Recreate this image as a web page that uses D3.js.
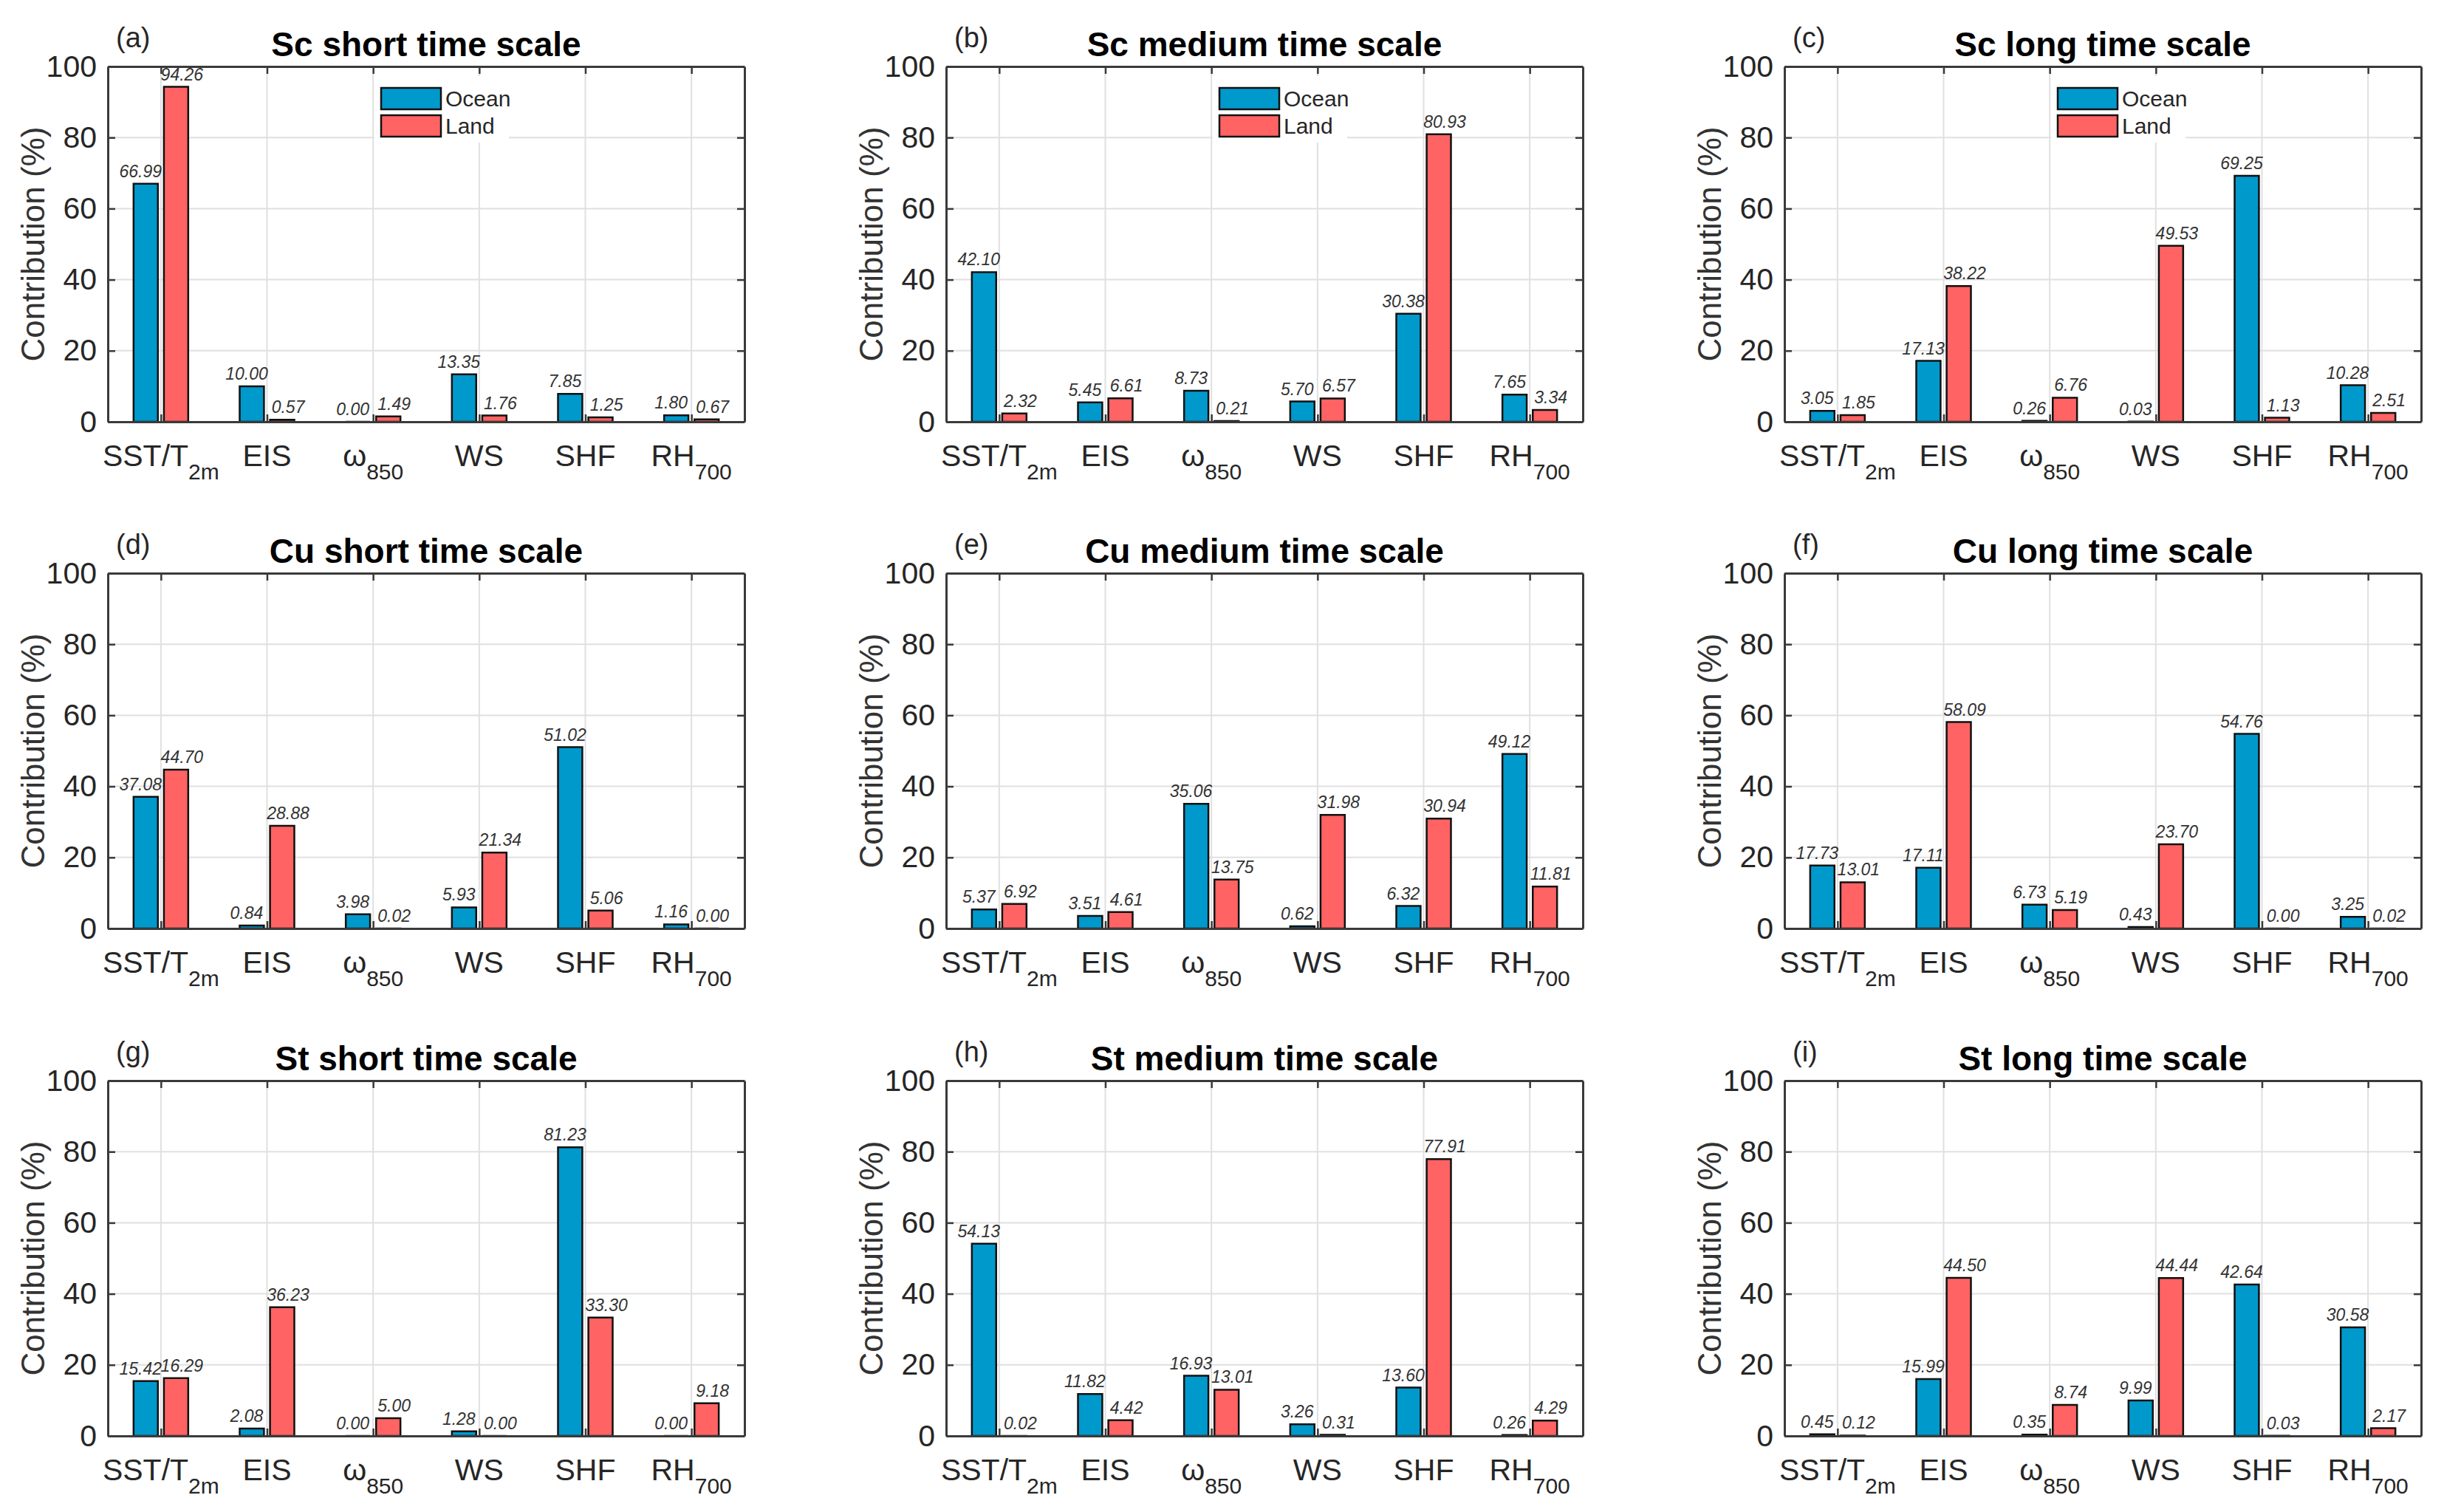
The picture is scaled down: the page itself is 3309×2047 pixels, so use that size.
<!DOCTYPE html>
<html>
<head>
<meta charset="utf-8">
<script src="https://cdn.jsdelivr.net/npm/d3@7"></script>
<style>
  body { margin: 0; background: #fff; }
  svg { display: block; }
</style>
</head>
<body>
<div id="chart"></div>
<script>
// data
var titles = ["Sc short time scale", "Sc medium time scale", "Sc long time scale",
              "Cu short time scale", "Cu medium time scale", "Cu long time scale",
              "St short time scale", "St medium time scale", "St long time scale"];
var panelTags = ["(a)", "(b)", "(c)", "(d)", "(e)", "(f)", "(g)", "(h)", "(i)"];
var catMain = ["SST/T", "EIS", "\u03C9", "WS", "SHF", "RH"];
var catSub  = ["2m", "", "850", "", "", "700"];
var seriesNames = ["Ocean", "Land"];
var yTicks = [0, 20, 40, 60, 80, 100];

var oceanVals = [
  [66.99, 10.00, 0.00, 13.35, 7.85, 1.80],
  [42.10, 5.45, 8.73, 5.70, 30.38, 7.65],
  [3.05, 17.13, 0.26, 0.03, 69.25, 10.28],
  [37.08, 0.84, 3.98, 5.93, 51.02, 1.16],
  [5.37, 3.51, 35.06, 0.62, 6.32, 49.12],
  [17.73, 17.11, 6.73, 0.43, 54.76, 3.25],
  [15.42, 2.08, 0.00, 1.28, 81.23, 0.00],
  [54.13, 11.82, 16.93, 3.26, 13.60, 0.26],
  [0.45, 15.99, 0.35, 9.99, 42.64, 30.58]
];
var landVals = [
  [94.26, 0.57, 1.49, 1.76, 1.25, 0.67],
  [2.32, 6.61, 0.21, 6.57, 80.93, 3.34],
  [1.85, 38.22, 6.76, 49.53, 1.13, 2.51],
  [44.70, 28.88, 0.02, 21.34, 5.06, 0.00],
  [6.92, 4.61, 13.75, 31.98, 30.94, 11.81],
  [13.01, 58.09, 5.19, 23.70, 0.00, 0.02],
  [16.29, 36.23, 5.00, 0.00, 33.30, 9.18],
  [0.02, 4.42, 13.01, 0.31, 77.91, 4.29],
  [0.12, 44.50, 8.74, 44.44, 0.03, 2.17]
];

var width = 3309, height = 2047;
var colLeft = [146, 1281, 2416], rowTop = [90, 776, 1463];
var axW = 862, axH = 481;
var colors = {Ocean: "#0099cc", Land: "#ff6363"};
var offsets = {Ocean: -0.143, Land: 0.143};
var labelShift = {Ocean: -7, Land: 8};
var barW = 0.229;
var textCol = "#262626";
var tickFont = "'Liberation Sans Narrow', 'Liberation Sans', Arial, sans-serif";
var mainFont = "'Liberation Sans', Arial, sans-serif";

var svg = d3.select("#chart")
  .append("svg")
    .attr("width", width)
    .attr("height", height);

titles.forEach(function(title, i) {
  var r = Math.floor(i / 3), c = i % 3;
  var g = svg.append("g")
    .attr("transform", "translate(" + colLeft[c] + "," + rowTop[r] + ")");

  var x = d3.scaleLinear().domain([0.5, 6.5]).range([0, axW]);
  var y = d3.scaleLinear().domain([0, 100]).range([axH, 0]);
  var cats = d3.range(1, 7);

  // grid lines
  g.append("g").selectAll("line")
    .data(cats)
    .enter().append("line")
      .attr("x1", function(d) { return x(d); })
      .attr("x2", function(d) { return x(d); })
      .attr("y1", 0).attr("y2", axH)
      .attr("stroke", "#e0e0e0").attr("stroke-width", 2);
  g.append("g").selectAll("line")
    .data(yTicks.slice(1, -1))
    .enter().append("line")
      .attr("x1", 0).attr("x2", axW)
      .attr("y1", function(d) { return y(d); })
      .attr("y2", function(d) { return y(d); })
      .attr("stroke", "#e0e0e0").attr("stroke-width", 2);

  // bars
  var data = [];
  seriesNames.forEach(function(s) {
    var vals = s === "Ocean" ? oceanVals[i] : landVals[i];
    vals.forEach(function(v, k) { data.push({s: s, k: k + 1, v: v}); });
  });

  g.append("g").selectAll("path")
    .data(data)
    .enter().append("path")
      .attr("d", function(d) {
        var x0 = x(d.k + offsets[d.s] - barW / 2), x1 = x(d.k + offsets[d.s] + barW / 2);
        return "M" + x0 + "," + y(0) + "V" + y(d.v) + "H" + x1 + "V" + y(0) + "Z";
      })
      .attr("fill", function(d) { return colors[d.s]; })
      .attr("stroke", "#111")
      .attr("stroke-width", 2.5);

  // value labels
  g.append("g").selectAll("text")
    .data(data)
    .enter().append("text")
      .attr("x", function(d) { return x(d.k + offsets[d.s]) + labelShift[d.s]; })
      .attr("y", function(d) { return y(d.v) - 9; })
      .attr("text-anchor", "middle")
      .style("font-family", mainFont)
      .style("font-style", "italic")
      .style("font-size", "23px")
      .style("fill", "#333")
      .text(function(d) { return d.v.toFixed(2); });

  // axes (ticks inside, MATLAB box)
  var left = g.append("g")
    .call(d3.axisLeft(y).tickValues(yTicks).tickSizeInner(-10).tickSizeOuter(0).tickPadding(15));
  var right = g.append("g").attr("transform", "translate(" + axW + ",0)")
    .call(d3.axisRight(y).tickValues(yTicks).tickSizeInner(-10).tickSizeOuter(0).tickFormat(""));
  var top = g.append("g")
    .call(d3.axisTop(x).tickValues(cats).tickSizeInner(-10).tickSizeOuter(0).tickFormat(""));
  var bottom = g.append("g").attr("transform", "translate(0," + axH + ")")
    .call(d3.axisBottom(x).tickValues(cats).tickSizeInner(-10).tickSizeOuter(0).tickFormat(""));

  [left, right, top, bottom].forEach(function(a) {
    a.select(".domain").attr("stroke", "#3a3a3a").attr("stroke-width", 3);
    a.selectAll(".tick line").attr("stroke", "#3a3a3a").attr("stroke-width", 2.5);
  });
  left.selectAll(".tick text")
    .style("font-family", tickFont)
    .style("font-size", "41px")
    .style("fill", textCol);

  // category labels with subscripts
  var xl = g.append("g").selectAll("text")
    .data(cats)
    .enter().append("text")
      .attr("x", function(d) { return x(d); })
      .attr("y", axH + 60)
      .attr("text-anchor", "middle")
      .style("font-family", tickFont)
      .style("font-size", "41px")
      .style("fill", textCol);
  xl.append("tspan").text(function(d) { return catMain[d - 1]; });
  xl.append("tspan")
    .attr("dy", 18)
    .style("font-size", "30px")
    .text(function(d) { return catSub[d - 1]; });

  // y label
  g.append("text")
    .attr("transform", "translate(-86," + (axH / 2) + ") rotate(-90)")
    .attr("text-anchor", "middle")
    .style("font-family", mainFont)
    .style("font-size", "44px")
    .style("fill", "#333")
    .text("Contribution (%)");

  // title and tag
  g.append("text")
    .attr("x", axW / 2).attr("y", -14)
    .attr("text-anchor", "middle")
    .style("font-family", mainFont)
    .style("font-weight", "bold")
    .style("font-size", "46px")
    .style("fill", "#000")
    .text(title);
  g.append("text")
    .attr("x", 11).attr("y", -26)
    .style("font-family", mainFont)
    .style("font-size", "38px")
    .style("fill", textCol)
    .text(panelTags[i]);

  // legend only on the first row
  if (r === 0) {
    var lg = g.append("g").attr("transform", "translate(361,13)");
    lg.append("rect")
      .attr("width", 182).attr("height", 90)
      .attr("fill", "#fff");
    seriesNames.forEach(function(s, k) {
      lg.append("rect")
        .attr("x", 9).attr("y", 16 + k * 37)
        .attr("width", 81).attr("height", 29)
        .attr("fill", colors[s])
        .attr("stroke", "#111").attr("stroke-width", 2.5);
      lg.append("text")
        .attr("x", 96).attr("y", 41 + k * 37)
        .style("font-family", tickFont)
        .style("font-size", "30px")
        .style("fill", textCol)
        .text(s);
    });
  }
});
</script>
</body>
</html>
